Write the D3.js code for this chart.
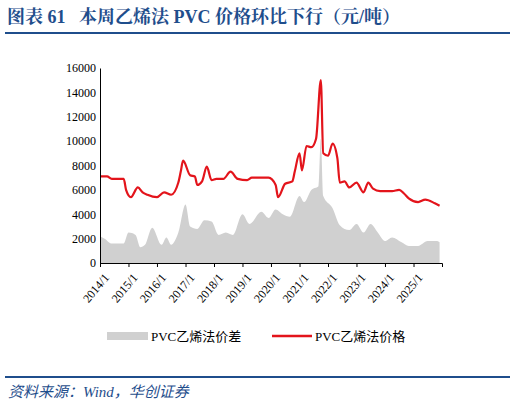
<!DOCTYPE html><html><head><meta charset="utf-8"><script src="https://cdn.jsdelivr.net/npm/d3@7"></script>
<style>body{margin:0;background:#fff}text{white-space:pre}</style></head><body><svg id="c" width="515" height="410"></svg>
<script>
const priceDates=["2014-01","2014-04","2014-06","2014-10","2014-11","2014-12","2015-02","2015-05","2015-07","2015-09","2016-01","2016-04","2016-07","2016-10","2016-11","2016-12","2017-03","2017-05","2017-06","2017-08","2017-10","2017-12","2018-02","2018-05","2018-08","2018-11","2019-03","2019-05","2019-08","2019-12","2020-03","2020-04","2020-07","2020-10","2020-11","2021-01","2021-02","2021-04","2021-06","2021-08","2021-10","2021-11","2022-01","2022-03","2022-05","2022-06","2022-08","2022-10","2023-01","2023-04","2023-06","2023-08","2023-11","2024-04","2024-07","2024-09","2024-11","2025-03","2025-06","2025-10","2025-12"];
const priceVals=[7100,7100,6900,6900,6900,6000,5400,6200,5800,5600,5400,5800,5600,6600,7500,8400,7200,7100,6400,6700,7900,6800,6900,6900,7500,6900,6800,7000,7000,7000,6400,5400,6500,6700,7500,9000,7600,9600,9500,10200,15000,9000,8800,9800,8600,6600,6700,6200,6600,5800,6600,6100,5900,5900,6000,5700,5300,5000,5200,4900,4700];
const spreadDates=["2014-01","2014-03","2014-06","2014-11","2015-01","2015-04","2015-06","2015-08","2015-11","2016-03","2016-05","2016-07","2016-10","2017-01","2017-03","2017-06","2017-09","2017-12","2018-03","2018-06","2018-09","2019-01","2019-04","2019-09","2019-12","2020-03","2020-06","2020-09","2021-01","2021-03","2021-06","2021-09","2021-10","2021-11","2022-03","2022-06","2022-10","2023-01","2023-04","2023-07","2023-10","2024-01","2024-04","2024-08","2024-11","2025-03","2025-07","2025-11","2025-12"];
const spreadVals=[2200,2000,1600,1600,2500,2300,1300,1500,2900,1500,2100,1500,2500,4800,3000,2800,3500,3400,2300,2500,2300,4000,3200,4200,3700,4400,4000,3800,5500,5000,6000,6300,10200,5500,4500,3100,2700,3200,2500,3200,2500,1800,2100,1700,1400,1400,1800,1800,1700];
const yTicks=[0,2000,4000,6000,8000,10000,12000,14000,16000];
const xTickLabels=["2014/1","2015/1","2016/1","2017/1","2018/1","2019/1","2020/1","2021/1","2022/1","2023/1","2024/1","2025/1"];
const svg=d3.select("#c"),p=d3.timeParse("%Y-%m");
const blue="#1f4e8c";
svg.append("text").attr("x",7).attr("y",23).attr("fill",blue).attr("font-family","'Liberation Serif','Noto Serif CJK SC','Noto Sans CJK SC',serif").attr("font-weight","bold").attr("font-size",18).text("图表 61   本周乙烯法 PVC 价格环比下行（元/吨）");
svg.append("rect").attr("x",5).attr("y",32).attr("width",505).attr("height",2).attr("fill",blue);
svg.append("rect").attr("x",5).attr("y",376).attr("width",505).attr("height",2).attr("fill",blue);
svg.append("text").attr("x",8).attr("y",397).attr("fill",blue).attr("font-style","italic").attr("font-family","'Liberation Serif','Noto Sans CJK SC',serif").attr("font-size",15).text("资料来源：Wind，华创证券");
const x=d3.scaleTime().domain([p("2014-01"),p("2026-01")]).range([100,442]);
const y=d3.scaleLinear().domain([0,16000]).range([263,68]);
const sp=spreadDates.map((d,i)=>[p(d),spreadVals[i]]), pr=priceDates.map((d,i)=>[p(d),priceVals[i]]);
svg.append("path").datum(sp).attr("fill","#d0d0d0").attr("d",d3.area().x(d=>x(d[0])).y0(y(0)).y1(d=>y(d[1])).curve(d3.curveMonotoneX));
svg.append("path").datum(pr).attr("fill","none").attr("stroke","#e3141b").attr("stroke-width",2.2).attr("d",d3.line().x(d=>x(d[0])).y(d=>y(d[1])).curve(d3.curveMonotoneX));
const font="'Liberation Serif','Times New Roman',serif";
const ya=svg.append("g").attr("transform","translate(100,0)").call(d3.axisLeft(y).tickValues(yTicks).tickFormat(d3.format("d")).tickSize(0).tickPadding(4));
ya.selectAll("text").attr("font-family",font).attr("font-size",12).attr("fill","#000");
ya.select(".domain").attr("stroke","#000");
const xt=xTickLabels.map(s=>{const [a,b]=s.split("/");return new Date(+a,+b-1,1)});
const xa=svg.append("g").attr("transform","translate(0,263)").call(d3.axisBottom(x).tickValues(xt).tickFormat((d,i)=>xTickLabels[i]).tickSize(4));
xa.select(".domain").attr("stroke","#000");xa.selectAll("line").attr("stroke","#000");
xa.selectAll("text").attr("font-family",font).attr("font-size",12).attr("fill","#000").attr("text-anchor","end").attr("transform","translate(0,4) rotate(-50)").attr("dx","-0.2em").attr("dy","0.6em");
svg.append("rect").attr("x",107).attr("y",332).attr("width",41).attr("height",8).attr("fill","#d0d0d0");
svg.append("text").attr("x",151).attr("y",341).attr("font-family",font+",'Noto Sans CJK SC'").attr("font-size",13).text("PVC乙烯法价差");
svg.append("line").attr("x1",272).attr("x2",312).attr("y1",336).attr("y2",336).attr("stroke","#e3141b").attr("stroke-width",2.5);
svg.append("text").attr("x",315).attr("y",341).attr("font-family",font+",'Noto Sans CJK SC'").attr("font-size",13).text("PVC乙烯法价格");
</script></body></html>
